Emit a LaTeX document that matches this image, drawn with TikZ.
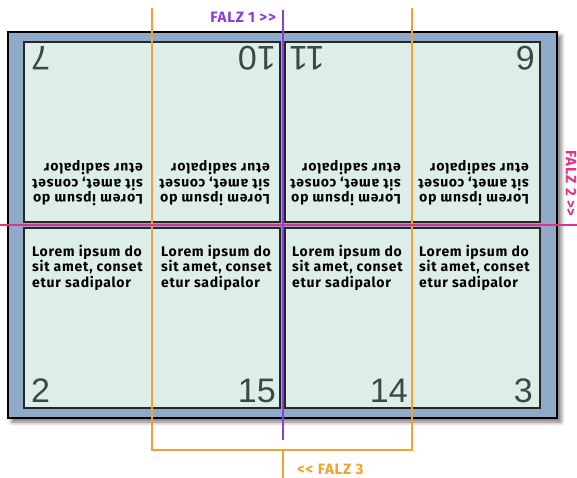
\documentclass[tikz,border=0pt]{standalone}
\usepackage{fontspec}
\setmainfont{Liberation Sans}
\newfontfamily\falzfont[LetterSpace=5]{Fira Sans}
\usetikzlibrary{shadows.blur}

\definecolor{bogen}{HTML}{8FA9C8}
\definecolor{seite}{HTML}{DDEEE9}
\definecolor{falzeins}{HTML}{8A3CE0}
\definecolor{falzzwei}{HTML}{E5308C}
\definecolor{falzdrei}{HTML}{F2A22E}
\definecolor{ziffer}{HTML}{3A4846}

\begin{document}
\begin{tikzpicture}[x=1pt,y=-1pt,
    seitenrand/.style={draw=black!85, line width=1.1pt, fill=seite},
    blindtext/.style={font=\falzfont\bfseries\fontsize{14}{15.4}\selectfont,
        align=left, inner sep=0pt, anchor=north west, text=black},
    seitenzahl/.style={font=\fontsize{34}{34}\selectfont, text=ziffer, inner sep=0pt},
    falzlabel/.style={font=\falzfont\bfseries\fontsize{15}{15}\selectfont, inner sep=0pt}]

\useasboundingbox (0,0) rectangle (577,478);

% ============================================
% 1. BOGEN
% ============================================
\fill[bogen, draw=black, line width=1.5pt,
    blur shadow={shadow xshift=4pt, shadow yshift=-4pt, shadow blur radius=4pt, shadow opacity=55}]
    (8,32) rectangle (557,418);

% Seiten
\draw[seitenrand] (24,42) rectangle (280,222);
\draw[seitenrand] (285,42) rectangle (540,222);
\draw[seitenrand] (24,228) rectangle (280,408);
\draw[seitenrand] (285,228) rectangle (540,408);

% ============================================
% 2. OBERE REIHE (KOPFSTEHEND)
% ============================================
\node[blindtext, rotate=180] (txtA) at (143,206) {Lorem ipsum do\\sit amet, conset\\etur sadipalor};
\node[blindtext, rotate=180] (txtB) at (270,206) {Lorem ipsum do\\sit amet, conset\\etur sadipalor};
\node[blindtext, rotate=180] (txtC) at (401,206) {Lorem ipsum do\\sit amet, conset\\etur sadipalor};
\node[blindtext, rotate=180] (txtD) at (529,206) {Lorem ipsum do\\sit amet, conset\\etur sadipalor};

\node[seitenzahl, rotate=180, anchor=base east] (s7) at (31,47) {7};
\node[seitenzahl, rotate=180, anchor=base west] (s10) at (276,47) {10};
\node[seitenzahl, rotate=180, anchor=base east] (s11) at (289,47) {11};
\node[seitenzahl, rotate=180, anchor=base west] (s6) at (535,47) {6};

% ============================================
% 3. UNTERE REIHE
% ============================================
\node[blindtext] (txtE) at (32,245) {Lorem ipsum do\\sit amet, conset\\etur sadipalor};
\node[blindtext] (txtF) at (161,245) {Lorem ipsum do\\sit amet, conset\\etur sadipalor};
\node[blindtext] (txtG) at (292,245) {Lorem ipsum do\\sit amet, conset\\etur sadipalor};
\node[blindtext] (txtH) at (419,245) {Lorem ipsum do\\sit amet, conset\\etur sadipalor};

\node[seitenzahl, anchor=base west] (s2) at (31,402) {2};
\node[seitenzahl, anchor=base east] (s15) at (276,402) {15};
\node[seitenzahl, anchor=base east] (s14) at (408,402) {14};
\node[seitenzahl, anchor=base east] (s3) at (533,402) {3};

% ============================================
% 4. FALZLINIEN
% ============================================
% Falz 3
\coordinate (f3lo) at (152,8);
\coordinate (f3lu) at (152,450);
\coordinate (f3ro) at (412,8);
\coordinate (f3ru) at (412,450);
\coordinate (f3m) at (283,450);
\coordinate (f3e) at (283,478);
\draw[falzdrei, line width=1.4pt] (f3lo) -- (f3lu) -- (f3ru) -- (f3ro);
\draw[falzdrei, line width=1.4pt] (f3m) -- (f3e);

% Falz 2
\coordinate (f2a) at (0,225);
\coordinate (f2b) at (577,225);
\draw[falzzwei, line width=1.2pt] (f2a) -- (f2b);

% Falz 1
\coordinate (f1a) at (283,10);
\coordinate (f1b) at (283,440);
\draw[falzeins, line width=1.4pt] (f1a) -- (f1b);

% Beschriftung
\node[falzlabel, text=falzeins, anchor=east] (falzA) at (276,17) {FALZ 1 >{}>};
\node[falzlabel, text=falzzwei, anchor=west, rotate=-90] (falzB) at (571,150) {FALZ 2 >{}>};
\node[falzlabel, text=falzdrei, anchor=west] (falzC) at (297,469.5) {<{}< FALZ 3};

\end{tikzpicture}
\end{document}
